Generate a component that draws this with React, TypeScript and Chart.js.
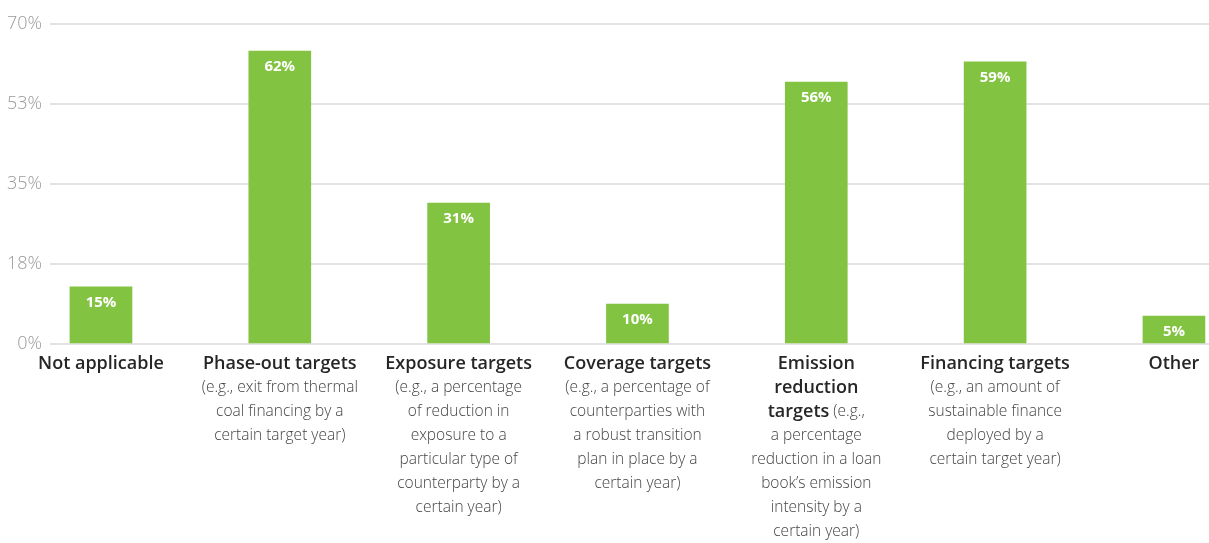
import React, { useEffect, useRef } from "react";
import { Chart, registerables } from "chart.js";

Chart.register(...registerables);

// ---- data ----
const categories = [
  "Not applicable",
  "Phase-out targets",
  "Exposure targets",
  "Coverage targets",
  "Emission reduction targets",
  "Financing targets",
  "Other",
];

// bar heights (axis units, %)
const barValues = [12.5, 64.1, 30.8, 8.75, 57.3, 61.7, 6.1];

// labels printed on the bars
const valueLabels = ["15%", "62%", "31%", "10%", "56%", "59%", "5%"];

// y-axis ticks
const yTicks = [0, 17.5, 35, 52.5, 70];
const yTickLabels = ["0%", "18%", "35%", "53%", "70%"];

// x-axis label lines; **text** marks bold
const categoryLabelLines: string[][] = [
  ["**Not applicable**"],
  ["**Phase-out targets**", "(e.g., exit from thermal", "coal financing by a", "certain target year)"],
  [
    "**Exposure targets**",
    "(e.g., a percentage",
    "of reduction in",
    "exposure to a",
    "particular type of",
    "counterparty by a",
    "certain year)",
  ],
  [
    "**Coverage targets**",
    "(e.g., a percentage of",
    "counterparties with",
    "a robust transition",
    "plan in place by a",
    "certain year)",
  ],
  [
    "**Emission**",
    "**reduction**",
    "**targets** (e.g.,",
    "a percentage",
    "reduction in a loan",
    "book\u2019s emission",
    "intensity by a",
    "certain year)",
  ],
  [
    "**Financing targets**",
    "(e.g., an amount of",
    "sustainable finance",
    "deployed by a",
    "certain target year)",
  ],
  ["**Other**"],
];

const BAR_COLOR = "#82c341";
const FONT = '"Open Sans", "Noto Sans", sans-serif';
const BOLD_FONT = `600 18px ${FONT}`;
const REG_FONT = `300 15.5px ${FONT}`;

function parseSegments(line: string): { t: string; b: boolean }[] {
  const parts = line.split("**");
  const segs: { t: string; b: boolean }[] = [];
  parts.forEach((p, i) => {
    if (p.length) segs.push({ t: p, b: i % 2 === 1 });
  });
  return segs;
}

const labelPlugin = {
  id: "customLabels",
  afterDatasetsDraw(chart: any) {
    const ctx = chart.ctx as CanvasRenderingContext2D;
    const xScale = chart.scales.x;
    const meta = chart.getDatasetMeta(0);
    ctx.save();
    // value labels inside bars
    ctx.fillStyle = "#ffffff";
    ctx.font = `700 15px ${FONT}`;
    ctx.textAlign = "center";
    ctx.textBaseline = "middle";
    meta.data.forEach((bar: any, i: number) => {
      ctx.fillText(valueLabels[i], bar.x, bar.y + 16);
    });
    // category labels
    const top = chart.chartArea.bottom + 20;
    categoryLabelLines.forEach((lines, i) => {
      const cx = xScale.getPixelForValue(i);
      lines.forEach((line, k) => {
        const segs = parseSegments(line);
        const y = top + k * 24;
        let total = 0;
        const widths = segs.map((s) => {
          ctx.font = s.b ? BOLD_FONT : REG_FONT;
          const w = ctx.measureText(s.t).width;
          total += w;
          return w;
        });
        let x = cx - total / 2;
        ctx.textAlign = "left";
        segs.forEach((s, j) => {
          ctx.font = s.b ? BOLD_FONT : REG_FONT;
          ctx.fillStyle = s.b ? "#262626" : "#444444";
          ctx.fillText(s.t, x, y);
          x += widths[j];
        });
      });
    });
    ctx.restore();
  },
};

export default function App() {
  const canvasRef = useRef<HTMLCanvasElement | null>(null);

  useEffect(() => {
    if (!canvasRef.current) return;
    const chart = new Chart(canvasRef.current, {
      type: "bar",
      data: {
        datasets: [
          {
            label: "Share",
            data: barValues.map((v, i) => ({ x: i, y: v })),
            backgroundColor: BAR_COLOR,
            borderWidth: 0,
            barThickness: 62,
          },
        ],
      },
      options: {
        responsive: false,
        animation: false,
        events: [],
        layout: { padding: { top: 24, bottom: 199, left: 0, right: 0 } },
        plugins: {
          legend: { display: false },
          tooltip: { enabled: false },
          title: { display: false },
        },
        scales: {
          x: {
            type: "linear",
            min: -0.285,
            max: 6.196,
            offset: false,
            display: false,
          },
          y: {
            min: 0,
            max: 70,
            afterBuildTicks: (scale: any) => {
              scale.ticks = yTicks.map((v) => ({ value: v }));
            },
            afterFit: (scale: any) => {
              scale.width = 50;
            },
            border: { display: false },
            grid: { color: "#e3e3e3", lineWidth: 2, drawTicks: false },
            ticks: {
              padding: 8,
              color: "#9a9a9a",
              font: { family: FONT, size: 18, weight: "300" as any },
              callback: (v: any) => {
                const idx = yTicks.indexOf(Number(v));
                return idx >= 0 ? yTickLabels[idx] : "";
              },
            },
          },
        },
      },
      plugins: [labelPlugin],
    });
    return () => chart.destroy();
  }, []);

  return (
    <div style={{ position: "absolute", left: 0, top: 0, width: 1209, height: 543, background: "#fff" }}>
      <canvas ref={canvasRef} width={1209} height={543} style={{ display: "block" }} />
    </div>
  );
}
